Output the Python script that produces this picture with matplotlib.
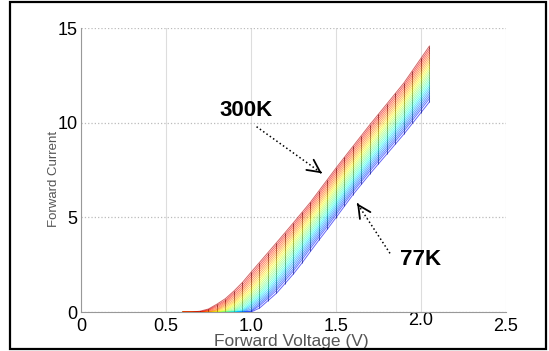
import matplotlib
matplotlib.use('Agg')
import matplotlib.pyplot as plt
from matplotlib.collections import LineCollection
from matplotlib.patches import Rectangle
from matplotlib.transforms import ScaledTranslation
import numpy as np

plt.rcParams['font.family'] = ['Liberation Sans', 'DejaVu Sans']

# edge curves (voltage V, current)
v_300k = [0.68, 0.75, 0.84, 0.93, 1.01, 1.13, 1.23, 1.35, 1.50, 1.70, 1.90, 2.05]
i_300k = [0.0, 0.15, 0.63, 1.35, 2.2, 3.45, 4.5, 5.8, 7.6, 9.9, 12.1, 14.05]
v_77k = [1.00, 1.03, 1.15, 1.27, 1.37, 1.46, 1.60, 1.70, 1.90, 2.05]
i_77k = [0.0, 0.05, 0.99, 2.22, 3.45, 4.5, 6.2, 7.3, 9.4, 11.1]

temps = [77, 90, 100, 110, 120, 130, 140, 150, 160, 170, 180, 190,
         200, 210, 220, 230, 240, 250, 260, 270, 280, 290, 300]
v_step = 0.05

xticks = [0, 0.5, 1.0, 1.5, 2.0, 2.5]
xtick_labels = ['0', '0.5', '1.0', '1.5', '2.0', '2.5']
yticks = [0, 5, 10, 15]


def curve_for(t, vgrid):
    # walk both edges at the same fraction of their own end current
    s = np.linspace(0, 1, 200)
    vb = np.interp(s * i_77k[-1], i_77k, v_77k)
    vr = np.interp(s * i_300k[-1], i_300k, v_300k)
    v = (1 - t) * vb + t * vr
    cur = s * ((1 - t) * i_77k[-1] + t * i_300k[-1])
    return np.interp(vgrid, v, cur, left=0.0)


fig = plt.figure(figsize=(5.49, 3.51), dpi=100)
ax = fig.add_axes([0.1475, 0.111, 0.774, 0.809])

vgrid = np.arange(0.60, 2.05 + 1e-9, v_step)
cmap = plt.cm.jet
fracs = [(T - temps[0]) / (temps[-1] - temps[0]) for T in temps]
curves = [curve_for(t, vgrid) for t in fracs]

for k, (t, cur) in enumerate(zip(fracs, curves)):
    col = cmap(0.1 + 0.85 * t)
    ax.plot(vgrid, cur, color=col, lw=0.7, alpha=0.6, zorder=3)

# vertical mesh segments between neighbouring curves
segs, cols = [], []
for k in range(len(curves) - 1):
    c = np.array(cmap(0.1 + 0.85 * fracs[k + 1]))
    dark = c.copy()
    dark[:3] = c[:3] * 0.55
    for j, v in enumerate(vgrid):
        a, b = curves[k][j], curves[k + 1][j]
        if b > 0.02:
            segs.append([(v, a), (v, b)])
            cols.append(dark)
ax.add_collection(LineCollection(segs, colors=cols, linewidths=0.6, alpha=0.75, zorder=4))

ax.set_xlim(0, 2.5)
ax.set_ylim(0, 15)
ax.set_xticks(xticks)
ax.set_xticklabels(xtick_labels)
ax.set_yticks(yticks)
ax.tick_params(length=0, labelsize=13)
ax.tick_params(axis='x', pad=4)
ax.tick_params(axis='y', pad=2.5)
ax.grid(axis='x', color='#dddddd', lw=0.8)
ax.grid(axis='y', color='#bbbbbb', lw=0.9, ls=':')
ax.set_axisbelow(True)
for side in ['top', 'right']:
    ax.spines[side].set_visible(False)
for side in ['left', 'bottom']:
    ax.spines[side].set_color('#999999')

# the "2.0" label sits a little higher in the original
lab = ax.xaxis.get_major_ticks()[4].label1
lab.set_transform(lab.get_transform() + ScaledTranslation(0, 4 / 72, fig.dpi_scale_trans))

ax.set_xlabel('Forward Voltage (V)', fontsize=12.5, color='#555555')
ax.xaxis.set_label_coords(0.494, -0.078)
ax.set_ylabel('Forward Current', fontsize=9.5, color='#555555')
ax.yaxis.set_label_coords(-0.05, 0.468)

# annotations
ax.text(0.97, 10.62, '300K', fontsize=16, fontweight='bold', ha='center', va='center')
ax.text(2.0, 2.78, '77K', fontsize=16, fontweight='bold', ha='center', va='center')


def dotted_arrow(start, tip):
    ax.plot([start[0], tip[0]], [start[1], tip[1]], ':', color='k', lw=1.1, zorder=6)
    back = (tip[0] - (tip[0] - start[0]) * 0.02, tip[1] - (tip[1] - start[1]) * 0.02)
    ax.annotate('', xy=tip, xytext=back,
                arrowprops=dict(arrowstyle='->,head_length=0.9,head_width=0.45',
                                color='k', lw=1.3, shrinkA=0, shrinkB=0), zorder=6)


dotted_arrow((1.033, 9.79), (1.417, 7.33))
dotted_arrow((1.818, 3.1), (1.625, 5.74))

fig.patches.append(Rectangle((9.5 / 549, 2 / 351), 536.5 / 549, 347 / 351,
                             transform=fig.transFigure, fill=False,
                             edgecolor='black', lw=1.6))

fig.savefig('out.png', dpi=100)
